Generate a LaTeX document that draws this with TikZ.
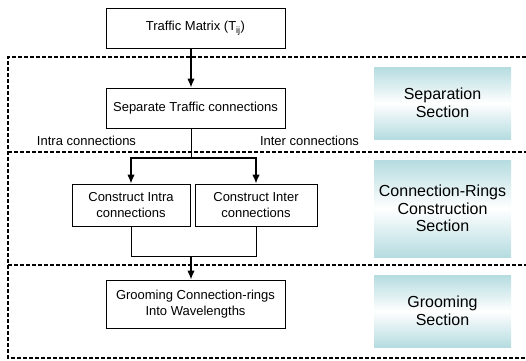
\documentclass[tikz,border=0pt]{standalone}
\usepackage{fontspec}
\setmainfont{Liberation Sans}
\usepackage{tikz}
\usetikzlibrary{arrows.meta}
\usepackage{xcolor}
\definecolor{secteal}{HTML}{B5DCE0}

\tikzset{
  stepbox/.style={draw, line width=0.9pt, align=center, inner sep=2pt,
    font=\fontsize{13}{16}\selectfont},
  secbox/.style={align=center, inner sep=0pt, top color=secteal,
    bottom color=secteal, middle color=white,
    font=\fontsize{16}{17.5}\selectfont},
  flow/.style={line width=1.4pt},
  sectionline/.style={line width=1.3pt, dash pattern=on 4pt off 2pt},
  lbl/.style={font=\fontsize{13}{15}\selectfont}
}

\begin{document}
\begin{tikzpicture}[x=1pt,y=-1pt,>={Latex[length=9pt,width=7.5pt]}]
\useasboundingbox (0,0) rectangle (526,360);
%%%SECTIONS
\draw[sectionline] (526,57) -- (8,57) -- (8,358) -- (526,358);
\draw[sectionline] (8,152) -- (526,152);
\draw[sectionline] (8,265) -- (526,265);
\node[secbox, minimum width=137pt, minimum height=72pt] (sepsec) at (442.5,103) {Separation\\Section};
\node[secbox, minimum width=137pt, minimum height=97pt] (crsec) at (442.5,208.5) {Connection-Rings\\Construction\\Section};
\node[secbox, minimum width=137pt, minimum height=72pt] (grsec) at (442.5,311) {Grooming\\Section};
%%%STEPS
\node[stepbox, minimum width=179pt, minimum height=40pt] (tm) at (195.5,28) {Traffic Matrix (T\textsubscript{ij})};
\node[stepbox, minimum width=179pt, minimum height=40pt] (sep) at (195.5,108) {Separate Traffic connections};
\node[stepbox, minimum width=118pt, minimum height=42pt] (intra) at (131,205) {Construct Intra\\connections};
\node[stepbox, minimum width=122pt, minimum height=42pt] (inter) at (256,205) {Construct Inter\\connections};
\node[stepbox, minimum width=179pt, minimum height=48pt] (groom) at (195.5,304) {Grooming Connection-rings\\Into Wavelengths};
\node[lbl] (intralbl) at (86.5,141) {Intra connections};
\node[lbl] (interlbl) at (309.5,141) {Inter connections};
\coordinate (split) at (191,158);
\coordinate (join) at (191,256);
%%%FLOW
\draw[->, flow] ([xshift=-4.5pt]tm.south) -- ([xshift=-4.5pt]sep.north);
\draw[line width=0.9pt] ([xshift=-4.5pt]sep.south) -- (split);
\draw[->, flow] (split) -| (intra.north);
\draw[->, flow] (split) -| (inter.north);
\draw[line width=0.9pt] (intra.south) |- (join);
\draw[line width=0.9pt] (inter.south) |- (join);
\draw[->, flow] (join) -- (groom.north -| join);
\end{tikzpicture}
\end{document}
